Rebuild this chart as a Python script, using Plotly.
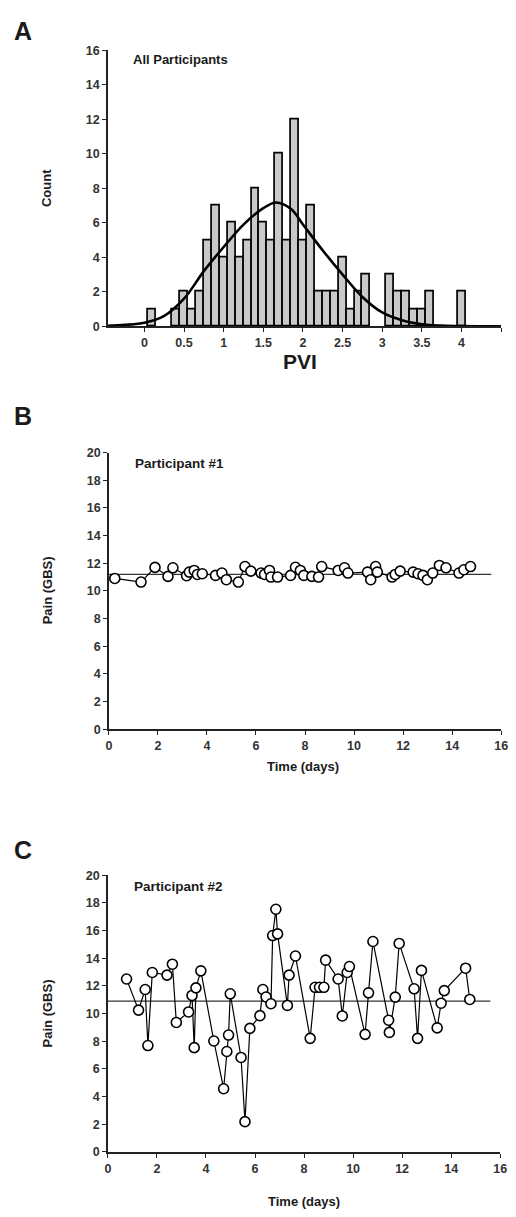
import plotly.graph_objects as go

# ---- panel A: histogram of PVI ----
bin_centers = [0.1, 0.4, 0.5, 0.6, 0.7, 0.8, 0.9, 1.0, 1.1, 1.2, 1.3, 1.4, 1.5, 1.6, 1.7, 1.8, 1.9,
               2.0, 2.1, 2.2, 2.3, 2.4, 2.5, 2.6, 2.7, 2.8, 3.1, 3.2, 3.3, 3.4, 3.5, 3.6, 4.0]
counts = [1, 1, 2, 1, 2, 5, 7, 4, 6, 4, 5, 8, 6, 5, 10, 5, 12,
          5, 7, 2, 2, 2, 4, 1, 2, 3, 3, 2, 2, 1, 1, 2, 2]
# fitted normal curve
curve_x = [-0.46, -0.25, 0.0, 0.25, 0.5, 0.75, 1.0, 1.25, 1.5, 1.66, 1.85, 2.0, 2.25, 2.5,
           2.75, 3.0, 3.25, 3.5, 3.75, 4.0, 4.5]
curve_y = [0.03, 0.08, 0.2, 0.6, 1.6, 3.2, 4.6, 5.9, 6.85, 7.18, 6.8, 5.9, 4.4, 3.0,
           1.7, 0.8, 0.35, 0.12, 0.04, 0.01, 0.0]
pvi_ticks = [0, 0.5, 1, 1.5, 2, 2.5, 3, 3.5, 4, 4.5]
pvi_labels = ["0", "0.5", "1", "1.5", "2", "2.5", "3", "3.5", "4", ""]

# ---- panel B: participant #1 ----
p1_days = [0.24, 1.31, 1.88, 2.41, 2.61, 3.17, 3.28, 3.48, 3.61, 3.81, 4.35, 4.61, 4.79, 5.28,
           5.55, 5.79, 6.21, 6.35, 6.55, 6.61, 6.88, 7.41, 7.61, 7.81, 7.95, 8.28, 8.55, 8.68,
           9.35, 9.61, 9.75, 10.55, 10.68, 10.88, 10.95, 11.55, 11.68, 11.88, 12.41, 12.61,
           12.81, 12.99, 13.21, 13.48, 13.75, 14.28, 14.48, 14.75]
p1_pain = [10.9, 10.64, 11.7, 11.05, 11.67, 11.1, 11.36, 11.48, 11.19, 11.24, 11.12, 11.29, 10.81, 10.64,
           11.76, 11.43, 11.29, 11.19, 11.48, 11.0, 11.0, 11.12, 11.71, 11.48, 11.12, 11.05, 11.0, 11.76,
           11.48, 11.67, 11.29, 11.36, 10.81, 11.76, 11.36, 11.0, 11.19, 11.43, 11.36, 11.24,
           11.12, 10.81, 11.29, 11.84, 11.67, 11.29, 11.53, 11.76]
p1_mean = 11.2

# ---- panel C: participant #2 ----
p2_days = [0.76, 1.25, 1.52, 1.63, 1.81, 2.41, 2.63, 2.79, 3.29, 3.43, 3.52, 3.59, 3.79, 4.32,
           4.72, 4.85, 4.92, 4.99, 5.43, 5.59, 5.79, 6.2, 6.32, 6.45, 6.65, 6.72, 6.85, 6.92,
           7.32, 7.39, 7.65, 8.25, 8.45, 8.63, 8.81, 8.88, 9.39, 9.56, 9.76, 9.85, 10.49,
           10.63, 10.81, 11.45, 11.48, 11.72, 11.88, 12.49, 12.63, 12.79, 13.43, 13.59, 13.72,
           14.59, 14.76]
p2_pain = [12.5, 10.25, 11.74, 7.69, 12.97, 12.78, 13.57, 9.36, 10.12, 11.31, 7.54, 11.86, 13.09, 8.02,
           4.57, 7.26, 8.45, 11.43, 6.83, 2.19, 8.93, 9.85, 11.74, 11.2, 10.71, 15.64, 17.54, 15.76,
           10.59, 12.78, 14.16, 8.21, 11.9, 11.9, 11.9, 13.86, 12.5, 9.83, 12.97, 13.4, 8.5,
           11.5, 15.21, 9.52, 8.64, 11.19, 15.07, 11.79, 8.21, 13.12, 8.97, 10.75, 11.66,
           13.28, 11.02]
p2_mean = 10.9
mean_span = [0, 15.6]

day_ticks = list(range(0, 17, 2))
pain_ticks = list(range(0, 21, 2))
count_ticks = list(range(0, 17, 2))

W, H = 516, 1217
INK = "#222222"
FONT = "Liberation Sans"


def px_x(a, b):
    return [a / W, b / W]


def px_y(top, bottom):
    return [1 - bottom / H, 1 - top / H]


fig = go.Figure()

fig.add_trace(go.Bar(x=bin_centers, y=counts, width=0.1, marker=dict(color="#c9c9c9",
              line=dict(color="black", width=1.7)), xaxis="x", yaxis="y", showlegend=False))
fig.add_trace(go.Scatter(x=curve_x, y=curve_y, mode="lines", line=dict(color="black", width=2.6, shape="spline"),
                         xaxis="x", yaxis="y", showlegend=False))

fig.add_trace(go.Scatter(x=mean_span, y=[p1_mean, p1_mean], mode="lines", line=dict(color="#333", width=1.2),
                         xaxis="x2", yaxis="y2", showlegend=False))
fig.add_trace(go.Scatter(x=p1_days, y=p1_pain, mode="lines+markers", line=dict(color="black", width=1.2),
                         marker=dict(size=10, color="white", line=dict(color="black", width=1.6)),
                         xaxis="x2", yaxis="y2", showlegend=False))

fig.add_trace(go.Scatter(x=mean_span, y=[p2_mean, p2_mean], mode="lines", line=dict(color="#333", width=1.2),
                         xaxis="x3", yaxis="y3", showlegend=False))
fig.add_trace(go.Scatter(x=p2_days, y=p2_pain, mode="lines+markers", line=dict(color="black", width=1.2),
                         marker=dict(size=10, color="white", line=dict(color="black", width=1.6)),
                         xaxis="x3", yaxis="y3", showlegend=False))

axis_style = dict(showgrid=False, zeroline=False, showline=True, linecolor=INK, linewidth=1.6,
                  ticks="outside", ticklen=4, tickwidth=1.4, tickcolor=INK,
                  tickfont=dict(family=FONT, size=12.5, color="#333", weight="bold"))

fig.update_layout(
    width=W, height=H, margin=dict(l=0, r=0, t=0, b=0),
    paper_bgcolor="white", plot_bgcolor="white",
    xaxis=dict(axis_style, domain=px_x(107, 508), range=[-0.46, 4.5], anchor="y",
               tickvals=pvi_ticks, ticktext=pvi_labels),
    yaxis=dict(axis_style, domain=px_y(44, 323), range=[0, 16], anchor="x", tickvals=count_ticks),
    xaxis2=dict(axis_style, domain=px_x(108, 508), range=[0, 16], anchor="y2", tickvals=day_ticks),
    yaxis2=dict(axis_style, domain=px_y(450.7, 730.7), range=[0, 20], anchor="x2", tickvals=pain_ticks),
    xaxis3=dict(axis_style, domain=px_x(107, 507), range=[0, 16], anchor="y3", tickvals=day_ticks),
    yaxis3=dict(axis_style, domain=px_y(878.3, 1158.3), range=[0, 20], anchor="x3", tickvals=pain_ticks),
    bargap=0,
)


def label(text, x, y, size, angle=0, xanchor="center", yanchor="middle"):
    fig.add_annotation(text=text, x=x / W, y=1 - y / H, xref="paper", yref="paper", showarrow=False,
                       xanchor=xanchor, yanchor=yanchor, textangle=angle,
                       font=dict(family=FONT, size=size, color="#1a1a1a", weight="bold"))


label("A", 9, 24, 25, xanchor="left")
label("B", 9, 414, 25, xanchor="left")
label("C", 9, 853, 25, xanchor="left")
label("All Participants", 131, 53, 13, xanchor="left")
label("Participant #1", 133, 462, 13.5, xanchor="left")
label("Participant #2", 132, 890, 13.5, xanchor="left")
label("Count", 45, 183, 13, angle=-90)
label("PVI", 303, 359, 21)
label("Pain (GBS)", 45, 590, 13, angle=-90)
label("Pain (GBS)", 45, 1018, 13, angle=-90)
label("Time (days)", 306, 768, 13)
label("Time (days)", 307, 1208, 13)

# page body has a default margin; drop it so the figure sits at the window corner
fig.write_html("out.html", config={"displayModeBar": False},
               post_script="document.body.style.margin='0px';")
